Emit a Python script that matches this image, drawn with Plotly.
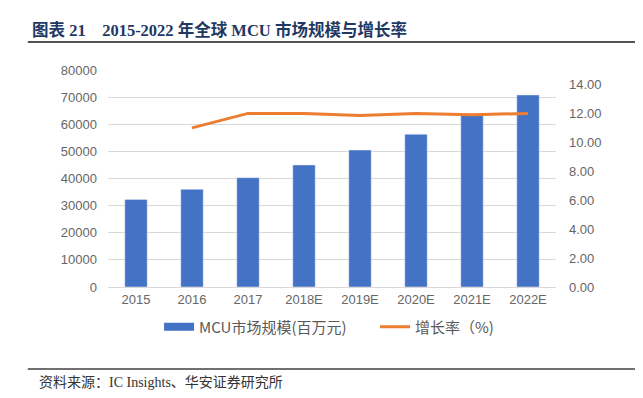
import plotly.graph_objects as go

categories = ["2015", "2016", "2017", "2018E", "2019E", "2020E", "2021E", "2022E"]
market_size = [32300, 36000, 40300, 45000, 50500, 56300, 63200, 70800]
growth_rate = [None, 11.0, 12.0, 12.0, 11.85, 12.0, 11.9, 12.0]

left_ticks = [0, 10000, 20000, 30000, 40000, 50000, 60000, 70000, 80000]
right_ticks = [0, 2, 4, 6, 8, 10, 12, 14]

BLUE = "#4472C4"
ORANGE = "#ED7D31"
font_cjk = "Noto Sans CJK SC, Noto Sans, sans-serif"
font_serif = "Liberation Serif, Noto Sans CJK SC, serif"
tick_font = dict(family="Liberation Sans, Arial, sans-serif", size=13, color="#666666")
legend_font = dict(family=font_cjk, size=15, color="#595959")

fig = go.Figure()
fig.add_trace(go.Bar(
    x=categories, y=market_size, name="MCU市场规模(百万元)",
    marker=dict(color=BLUE), yaxis="y", showlegend=False
))
# legend entry drawn as a wide rectangle, like the reference
fig.add_trace(go.Scatter(
    x=[None], y=[None], name="MCU市场规模(百万元)", mode="lines",
    line=dict(color=BLUE, width=8), yaxis="y", legend="legend"
))
fig.add_trace(go.Scatter(
    x=categories, y=growth_rate, name="增长率（%)", mode="lines",
    line=dict(color=ORANGE, width=3), yaxis="y2", connectgaps=False, legend="legend2"
))

fig.update_layout(
    width=643, height=398,
    margin=dict(l=100, r=95, t=62, b=119),
    paper_bgcolor="white", plot_bgcolor="white",
    bargap=0.6,
    showlegend=True,
    legend=dict(orientation="h", x=0.114, xanchor="left", y=-0.184, yanchor="middle",
                font=legend_font),
    legend2=dict(orientation="h", x=0.596, xanchor="left", y=-0.184, yanchor="middle",
                 font=legend_font),
    xaxis=dict(tickfont=tick_font, showgrid=False, showline=True,
               linecolor="#D9D9D9", linewidth=1, ticks=""),
    yaxis=dict(range=[0, 80000], tickvals=left_ticks, tickformat="d",
               tickfont=tick_font, gridcolor="#D9D9D9", gridwidth=1,
               zeroline=False, showline=False, ticks="", ticklabelstandoff=10),
    yaxis2=dict(range=[0, 15], tickvals=right_ticks, tickformat=".2f",
                tickfont=tick_font, overlaying="y", side="right",
                showgrid=False, zeroline=False, showline=False, ticks="",
                ticklabelstandoff=12),
    annotations=[
        dict(text="<b>图表 21    2015-2022 年全球 MCU 市场规模与增长率</b>",
             xref="paper", yref="paper", x=-0.175, y=1.184, xanchor="left", yanchor="middle",
             showarrow=False, font=dict(family=font_serif, size=16.5, color="#1F3864")),
        dict(text="资料来源：IC Insights、华安证券研究所",
             xref="paper", yref="paper", x=-0.158, y=-0.442, xanchor="left", yanchor="middle",
             showarrow=False, font=dict(family=font_serif, size=14, color="#333333")),
    ],
    shapes=[
        dict(type="line", xref="paper", yref="paper", x0=-0.179, x1=1.183, y0=1.129, y1=1.129,
             line=dict(color="#1A1A1A", width=1.5)),
        dict(type="line", xref="paper", yref="paper", x0=-0.179, x1=1.183, y0=-0.378, y1=-0.378,
             line=dict(color="#404040", width=1.5)),
    ],
)

fig.write_html("out.html")
